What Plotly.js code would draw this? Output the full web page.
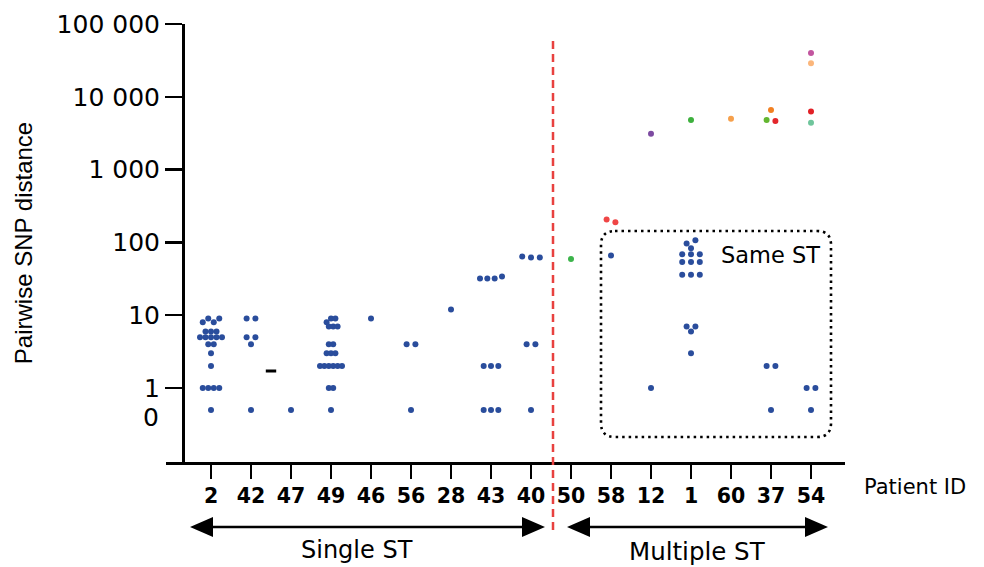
<!DOCTYPE html>
<html><head><meta charset="utf-8">
<script src="https://cdn.plot.ly/plotly-3.0.1.min.js"></script>
<style>html,body{margin:0;padding:0;background:#fff}#chart{width:984px;height:567px}</style>
</head><body><div id="chart"></div>
<script>
// ---------------- DATA ----------------
const patientIds = ["2","42","47","49","46","56","28","43","40","50","58","12","1","60","37","54"];
const singleStCount = 9;              // first 9 patients: single ST
const groupLabels = ["Single ST", "Multiple ST"];

// pairwise SNP distances between isolates of the same ST (blue dots)
const sameStDistances = [
  [8,9,8,9,6,6,6,5,5,5,5,5,4,4,3,2,1,1,1,1,0],          // 2
  [9,9,5,5,4,0],                                         // 42
  [0],                                                   // 47
  [8,9,9,7,7,7,4,4,3,3,3,2,2,2,2,2,2,1,1,0],             // 49
  [9],                                                   // 46
  [4,4,0],                                               // 56
  [12],                                                  // 28
  [32,32,32,34,2,2,2,0,0,0],                             // 43
  [64,62,62,4,4,0],                                      // 40
  [],                                                    // 50
  [66],                                                  // 58
  [1],                                                   // 12
  [97,107,83,69,69,69,54,54,54,36,36,36,7,7,6,3],        // 1
  [],                                                    // 60
  [2,2,0],                                               // 37
  [1,1,0]                                                // 54
];
// pairwise SNP distances between isolates of different STs (coloured dots)
const diffStDistances = [
  [],[],[],[],[],[],[],[],[],
  [59],                       // 50
  [206,189],                  // 58
  [3100],                     // 12
  [4800],                     // 1
  [5000],                     // 60
  [6600,4800,4650],           // 37
  [40000,29000,6300,4400]     // 54
];
const diffStColors = [
  [],[],[],[],[],[],[],[],[],
  ["#3cb44b"],
  ["#ef4646","#ef4646"],
  ["#7d4ba1"],
  ["#3db03d"],
  ["#f6a04b"],
  ["#f28022","#63b630","#e3262b"],
  ["#c2559f","#fbb67b","#e22026","#6fc59c"]
];
const yTickVals = [1,10,100,1000,10000,100000];
const yTickText = ["1","10","100","1 000","10 000","100 000"];

// ---------------- GEOMETRY / STYLE ----------------
const W = 984, H = 567;
const M = {l:166, r:139, t:24, b:105};
const xRange = [-1.125, 15.85];
const yRange = [-1.016, 5];
const ZERO_AT = 0.5;                  // where "0" is drawn on the log axis
const plotW = W - M.l - M.r, plotH = H - M.t - M.b;
const pxPerX = plotW / (xRange[1]-xRange[0]);
const pxPerDec = plotH / (yRange[1]-yRange[0]);
const BLUE = "#2a4d9c";
const yAxisAt = -0.7;

function plotVal(v){ return v === 0 ? ZERO_AT : v; }

// simple Prism-like scatter-dot layout (rows of near-equal values, centred)
function swarm(points, center){
  const TH = 4.6, MAXSP = 8.8, WIDTH = 22;
  const items = points.map((p,i)=>({...p, idx:i, py: -Math.log10(plotVal(p.v))*pxPerDec}));
  const sorted = items.slice().sort((a,b)=> a.py-b.py || a.idx-b.idx);
  const clusters = [];
  for (const it of sorted){
    const last = clusters[clusters.length-1];
    if (last && it.py - last[0].py < TH) last.push(it); else clusters.push([it]);
  }
  const nmax = Math.max(...clusters.map(c=>c.length));
  const sp = nmax > 1 ? Math.min(MAXSP, WIDTH/(nmax-1)) : MAXSP;
  const placed = [];
  for (const c of clusters){
    c.sort((a,b)=>a.idx-b.idx);
    const n = c.length;
    const shifts = [0, sp/2, -sp/2, sp, -sp];
    let best = null, bestD = -1;
    for (const s of shifts){
      const xs = c.map((_,k)=>(k-(n-1)/2)*sp + s);
      let md = Infinity;
      c.forEach((it,k)=>placed.forEach(p=>{
        const d = Math.hypot(xs[k]-p.px, it.py-p.py); if (d<md) md=d;
      }));
      if (md >= TH){ best = xs; break; }
      if (md > bestD){ bestD = md; best = xs; }
    }
    c.forEach((it,k)=>{ it.px = best[k]; placed.push(it); });
  }
  return items.map(it=>({x: center + it.px/pxPerX, y: plotVal(it.v), color: it.color, kind: it.kind}));
}

const blueX = [], blueY = [], colX = [], colY = [], colC = [];
patientIds.forEach((id, i)=>{
  const pts = sameStDistances[i].map(v=>({v, color: BLUE, kind:'same'}))
    .concat(diffStDistances[i].map((v,k)=>({v, color: diffStColors[i][k], kind:'diff'})));
  swarm(pts, i).forEach(p=>{
    if (p.kind === 'same'){ blueX.push(p.x); blueY.push(p.y); }
    else { colX.push(p.x); colY.push(p.y); colC.push(p.color); }
  });
});

const traces = [
  {type:'scatter', mode:'markers', x: blueX, y: blueY, name:'Same ST',
   marker:{color: BLUE, size:6, line:{width:0}}, hoverinfo:'y', cliponaxis:false},
  {type:'scatter', mode:'markers', x: colX, y: colY, name:'Different ST',
   marker:{color: colC, size:6, line:{width:0}}, hoverinfo:'y', cliponaxis:false}
];

// pixel helpers for decorations
const pyPaper = p => (H - M.b - p)/plotH;

const arrowY = pyPaper(527);
const headL = 23/pxPerX, headH = 10/plotH;
function arrowShapes(x0, x1){
  return [
    {type:'line', xref:'x', yref:'paper', x0: x0+headL*0.9, x1: x1-headL*0.9, y0: arrowY, y1: arrowY,
     line:{color:'#000', width:2.5}},
    {type:'path', xref:'x', yref:'paper', fillcolor:'#000', line:{width:0},
     path:`M ${x0},${arrowY} L ${x0+headL},${arrowY+headH} L ${x0+headL},${arrowY-headH} Z`},
    {type:'path', xref:'x', yref:'paper', fillcolor:'#000', line:{width:0},
     path:`M ${x1},${arrowY} L ${x1-headL},${arrowY+headH} L ${x1-headL},${arrowY-headH} Z`}
  ];
}
// rounded dotted "Same ST" box
const bx0 = 9.75, bx1 = 15.5, by0 = pyPaper(437), by1 = pyPaper(231);
const rx = 14/pxPerX, ry = 14/plotH;
const boxPath = `M ${bx0+rx},${by1} L ${bx1-rx},${by1} Q ${bx1},${by1} ${bx1},${by1-ry} `+
  `L ${bx1},${by0+ry} Q ${bx1},${by0} ${bx1-rx},${by0} L ${bx0+rx},${by0} Q ${bx0},${by0} ${bx0},${by0+ry} `+
  `L ${bx0},${by1-ry} Q ${bx0},${by1} ${bx0+rx},${by1} Z`;

const sepX = singleStCount - 0.45;
const shapes = [
  {type:'line', xref:'x', yref:'paper', x0: sepX, x1: sepX, y0: pyPaper(530), y1: pyPaper(38),
   line:{color:'#e8413f', width:2.5, dash:'8px,5px'}},
  {type:'path', xref:'x', yref:'paper', path: boxPath, line:{color:'#000', width:2.6, dash:'2.5px,4px'}},
  {type:'line', xref:'x', yref:'paper', x0: 1.37, x1: 1.63, y0: pyPaper(371), y1: pyPaper(371),
   line:{color:'#000', width:3}}
].concat(arrowShapes(-0.525, 8.35), arrowShapes(8.9, 15.425));

const txtFont = {family:'DejaVu Sans, Liberation Sans, Arial, sans-serif', color:'#000'};
const annotations = [
  {xref:'paper', yref:'y', x: (161-M.l)/plotW, y: -(417-388)/pxPerDec, text:'0', showarrow:false,
   xanchor:'right', yanchor:'middle', font:{...txtFont, size:25}},
  {xref:'paper', yref:'paper', x: (915-M.l)/plotW, y: pyPaper(487), text:'Patient ID', showarrow:false,
   xanchor:'center', yanchor:'middle', font:{...txtFont, size:21}},
  {xref:'x', yref:'paper', x: 13.98, y: pyPaper(255), text:'Same ST', showarrow:false,
   xanchor:'center', yanchor:'middle', font:{...txtFont, size:22.5}},
  {xref:'x', yref:'paper', x: 3.65, y: pyPaper(550), text: groupLabels[0], showarrow:false,
   xanchor:'center', yanchor:'middle', font:{...txtFont, size:24}},
  {xref:'x', yref:'paper', x: 12.15, y: pyPaper(551), text: groupLabels[1], showarrow:false,
   xanchor:'center', yanchor:'middle', font:{...txtFont, size:24.5}}
];

const layout = {
  width: W, height: H, margin: M, showlegend:false,
  paper_bgcolor:'#fff', plot_bgcolor:'#fff',
  xaxis: {range: xRange, tickvals: patientIds.map((_,i)=>i), ticktext: patientIds.map(s=>'<b>'+s+'</b>'),
    showgrid:false, zeroline:false, showline:true, linecolor:'#000', linewidth:2.5,
    ticks:'outside', ticklen:14, tickwidth:2.5, tickcolor:'#000',
    tickfont:{family:'DejaVu Sans, Liberation Sans, Arial, sans-serif', size:20.5, color:'#000'}},
  yaxis: {type:'log', range: yRange, tickvals: yTickVals, ticktext: yTickText,
    anchor:'free', position: (yAxisAt - xRange[0])/(xRange[1]-xRange[0]),
    showgrid:false, zeroline:false, showline:true, linecolor:'#000', linewidth:2.5,
    ticks:'outside', ticklen:17, tickwidth:2.5, tickcolor:'#000',
    tickfont:{...txtFont, size:25},
    title:{text:'Pairwise SNP distance', font:{family:'Liberation Sans, Arial, sans-serif', size:24, color:'#000'}, standoff:16}},
  shapes, annotations
};
Plotly.newPlot('chart', traces, layout, {displayModeBar:false, staticPlot:true});
</script></body></html>
